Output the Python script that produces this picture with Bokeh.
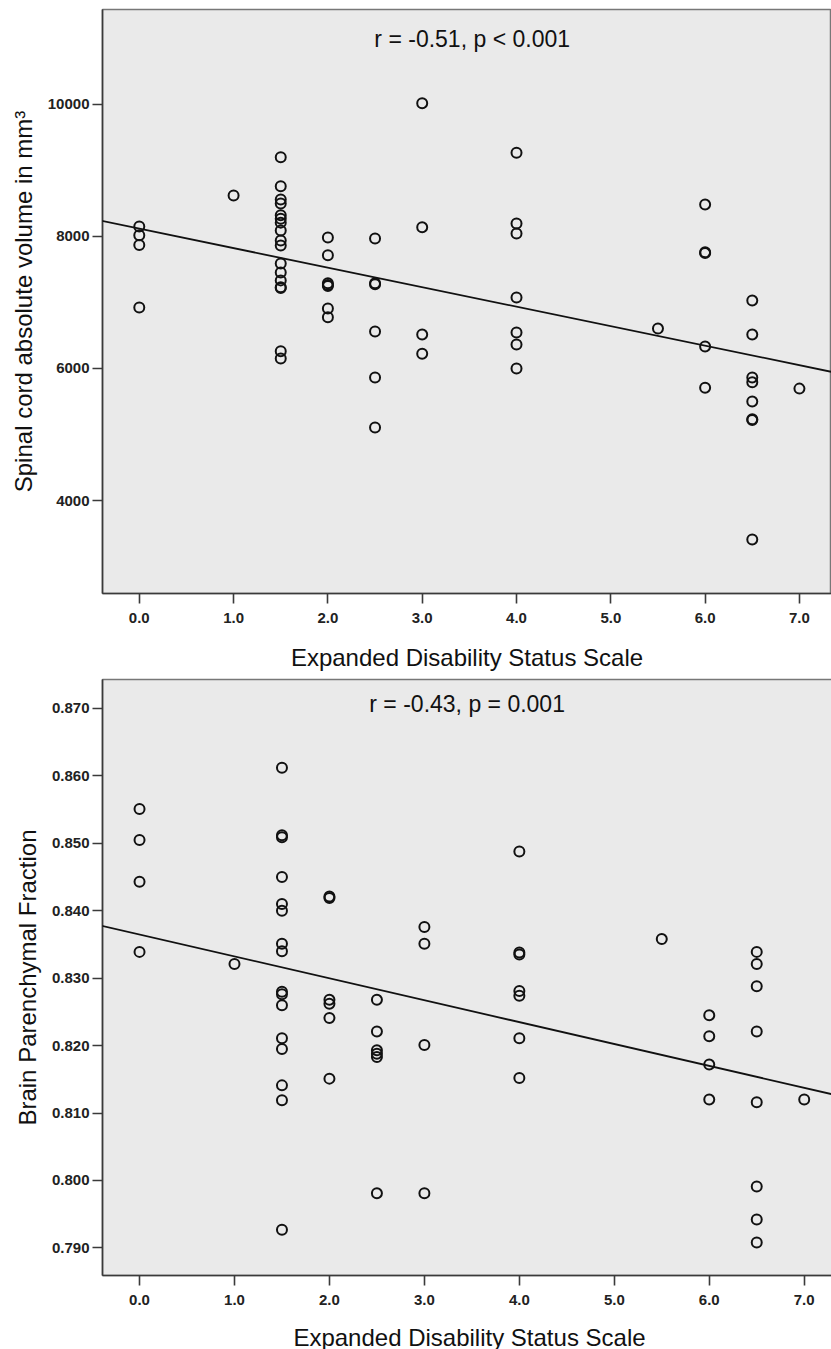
import numpy as np
from bokeh.plotting import figure
from bokeh.layouts import column
from bokeh.models import Range1d, FixedTicker, NumeralTickFormatter, Label, Slope, ColumnDataSource
from bokeh.embed import file_html
from bokeh.resources import INLINE

# ---- Data: spinal cord volume vs EDSS ----
edss_top = [0, 0, 0, 0,
            1,
            1.5, 1.5, 1.5, 1.5, 1.5, 1.5, 1.5, 1.5, 1.5, 1.5, 1.5, 1.5, 1.5, 1.5, 1.5, 1.5, 1.5,
            2, 2, 2, 2, 2, 2, 2,
            2.5, 2.5, 2.5, 2.5, 2.5, 2.5,
            3, 3, 3, 3,
            4, 4, 4, 4, 4, 4, 4,
            5.5,
            6, 6, 6, 6, 6,
            6.5, 6.5, 6.5, 6.5, 6.5, 6.5, 6.5, 6.5,
            7]
volume = [8150, 8020, 7870, 6925,
          8620,
          9200, 8760, 8560, 8500, 8320, 8270, 8210, 8090, 7940, 7865, 7590, 7455, 7335, 7230, 7220, 6260, 6150,
          7985, 7715, 7290, 7265, 7250, 6910, 6775,
          7970, 7290, 7275, 6560, 5865, 5105,
          10020, 8140, 6515, 6225,
          9270, 8195, 8045, 7075, 6545, 6365, 6000,
          6605,
          8485, 7760, 7750, 6335, 5710,
          7030, 6515, 5865, 5790, 5500, 5230, 5220, 3410,
          5695]

# ---- Data: brain parenchymal fraction vs EDSS ----
edss_bottom = [0, 0, 0, 0,
               1,
               1.5, 1.5, 1.5, 1.5, 1.5, 1.5, 1.5, 1.5, 1.5, 1.5, 1.5, 1.5, 1.5, 1.5, 1.5, 1.5,
               2, 2, 2, 2, 2, 2,
               2.5, 2.5, 2.5, 2.5, 2.5, 2.5,
               3, 3, 3, 3,
               4, 4, 4, 4, 4, 4, 4,
               5.5,
               6, 6, 6, 6,
               6.5, 6.5, 6.5, 6.5, 6.5, 6.5, 6.5, 6.5,
               7]
bpf = [0.8551, 0.8505, 0.8443, 0.8339,
       0.8321,
       0.8612, 0.8512, 0.8509, 0.8450, 0.8410, 0.8400, 0.8351, 0.8340, 0.8280, 0.8276, 0.8260, 0.8211, 0.8195, 0.8141, 0.8119, 0.7927,
       0.8421, 0.8419, 0.8268, 0.8262, 0.8241, 0.8151,
       0.8268, 0.8221, 0.8193, 0.8188, 0.8183, 0.7981,
       0.8376, 0.8351, 0.8201, 0.7981,
       0.8488, 0.8338, 0.8335, 0.8281, 0.8274, 0.8211, 0.8152,
       0.8358,
       0.8245, 0.8214, 0.8172, 0.8120,
       0.8339, 0.8321, 0.8288, 0.8221, 0.8116, 0.7991, 0.7942, 0.7908,
       0.8120]

x_ticks = [0, 1, 2, 3, 4, 5, 6, 7]
top_yticks = [4000, 6000, 8000, 10000]
bottom_yticks = [0.79, 0.80, 0.81, 0.82, 0.83, 0.84, 0.85, 0.86, 0.87]

x_label = "Expanded Disability Status Scale"
top_ylabel = "Spinal cord absolute volume in mm\u00b3"
bottom_ylabel = "Brain Parenchymal Fraction"
top_stat = "r = -0.51, p < 0.001"
bottom_stat = "r = -0.43, p = 0.001"

FONT = "Liberation Sans"
BG = "#eaeaea"
AX = "#3a3a3a"


def make_plot(xs, ys, yrange, yticks, yfmt, ylabel, stat, stat_x, stat_y,
              frame_w, frame_h, left, top, bottom, xlab_standoff):
    p = figure(output_backend="svg", toolbar_location=None,
               frame_width=frame_w, frame_height=frame_h,
               min_border_left=left, min_border_right=0,
               min_border_top=top, min_border_bottom=bottom,
               x_range=Range1d(-0.39, 7.34), y_range=Range1d(*yrange),
               background_fill_color=BG, border_fill_color="white")
    p.grid.visible = False
    p.outline_line_color = "#777777"
    p.outline_line_width = 1.5

    for ax in (p.xaxis, p.yaxis):
        ax.axis_line_color = AX
        ax.axis_line_width = 1.6
        ax.major_tick_line_color = AX
        ax.major_tick_line_width = 1.6
        ax.major_tick_out = 10
        ax.major_tick_in = 0
        ax.minor_tick_line_color = None
        ax.major_label_text_font = FONT
        ax.major_label_text_font_style = "bold"
        ax.major_label_text_font_size = "15px"
        ax.major_label_text_color = "#222222"
        ax.axis_label_text_font = FONT
        ax.axis_label_text_font_style = "normal"
        ax.axis_label_text_font_size = "24px"
        ax.axis_label_text_color = "#111111"

    p.xaxis.ticker = FixedTicker(ticks=x_ticks)
    p.xaxis.formatter = NumeralTickFormatter(format="0.0")
    p.xaxis.major_label_standoff = 9
    p.xaxis.axis_label = x_label
    p.xaxis.axis_label_standoff = xlab_standoff

    p.yaxis.ticker = FixedTicker(ticks=yticks)
    p.yaxis.formatter = NumeralTickFormatter(format=yfmt)
    p.yaxis.major_label_standoff = 3
    p.yaxis.axis_label = ylabel
    p.yaxis.axis_label_standoff = 8

    src = ColumnDataSource(dict(x=xs, y=ys))
    p.scatter("x", "y", source=src, marker="circle", size=10,
              fill_color=None, line_color="#111111", line_width=2.0)

    slope, intercept = np.polyfit(np.array(xs, float), np.array(ys, float), 1)
    p.add_layout(Slope(gradient=slope, y_intercept=intercept,
                       line_color="#111111", line_width=1.8))

    p.add_layout(Label(x=stat_x, y=stat_y, text=stat, text_align="center",
                       text_baseline="middle", text_font=FONT,
                       text_font_size="23px", text_color="#111111"))
    return p


p1 = make_plot(edss_top, volume, (2591, 11439), top_yticks, "0", top_ylabel,
               top_stat, 3.53, 10985, 729, 584, 102, 9, 80, 18)
p2 = make_plot(edss_bottom, bpf, (0.7859, 0.8743), bottom_yticks, "0.000", bottom_ylabel,
               bottom_stat, 3.45, 0.8706, 734, 596, 97, 6, 74, 16)

layout = column(p1, p2, spacing=0)
open("out.html", "w").write(file_html(layout, INLINE))
